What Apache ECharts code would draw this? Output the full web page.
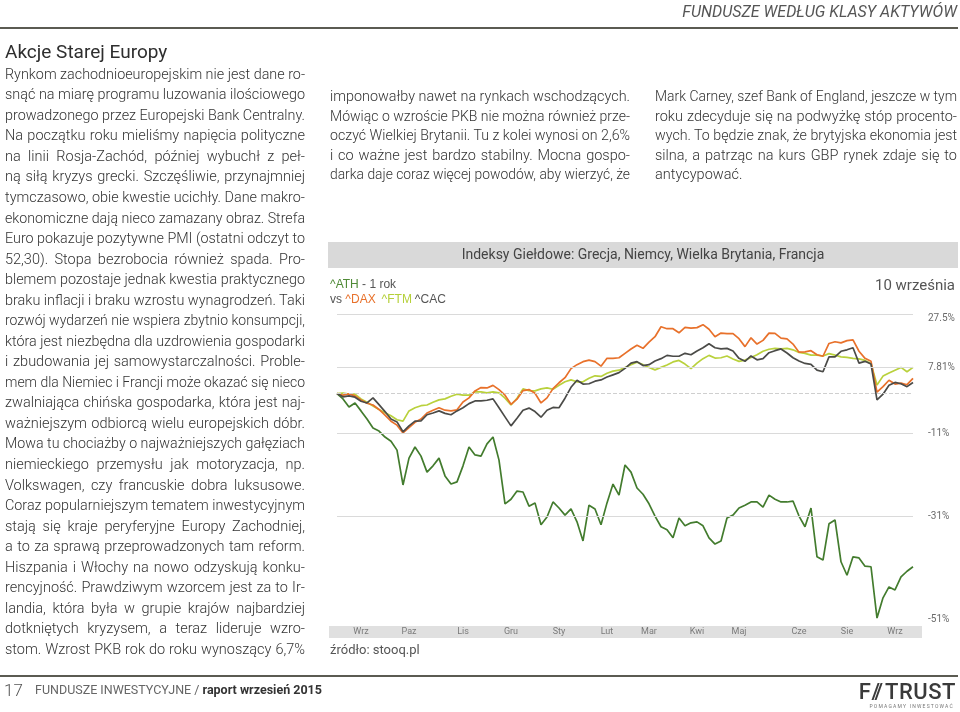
<!DOCTYPE html>
<html><head><meta charset="utf-8">
<script src="https://cdn.jsdelivr.net/npm/echarts@6/dist/echarts.min.js"></script>
<style>
html,body{margin:0;padding:0;background:#fff;}
#page{position:relative;width:960px;height:712px;overflow:hidden;font-family:Roboto,"Noto Sans",sans-serif;color:#3d3d3d;}
#chart{position:absolute;left:0;top:0;width:960px;height:712px;}
.ln{position:absolute;white-space:nowrap;display:inline-block;text-align:justify;text-align-last:justify;transform-origin:0 50%;font-size:14.5px;font-weight:300;color:#333;}
.abs{position:absolute;white-space:nowrap;}
</style></head>
<body><div id="page"><div id="chart"></div></div>
<script>
// ---------------- data ----------------
const monthNames = ['Wrz','Paz','Lis','Gru','Sty','Lut','Mar','Kwi','Maj','Cze','Sie','Wrz'];
const monthAt    = [4, 12, 21, 29, 37, 45, 52, 60, 67, 77, 85, 93];
const yTickLabels = ['27.5%','7.81%','-11%','-31%','-51%'];
const yTickValues = [27.5, 7.81, -11, -31, -51];

const ath = [0, -1.6, -4.0, -2.8, -5.1, -7.4, -9.9, -10.7, -12.3, -13.4,
 -15.7, -24.1, -17.7, -14.9, -17.2, -21.1, -19.6, -17.7, -22.0, -23.9,
 -23.4, -19.6, -14.9, -16.9, -17.2, -14.1, -12.3, -18.2, -28.3, -27.3,
 -25.5, -25.7, -28.8, -28.1, -32.7, -31.1, -27.9, -29.2, -30.7, -29.4,
 -32.1, -35.9, -28.6, -29.4, -32.7, -28.1, -23.9, -26.4, -19.4, -21.1,
 -24.8, -26.2, -28.3, -30.9, -33.1, -33.7, -35.3, -31.3, -32.9, -32.3,
 -32.1, -32.9, -35.3, -36.5, -35.9, -31.3, -30.7, -29.2, -28.6, -27.9,
 -27.9, -29.0, -26.4, -27.3, -27.9, -27.9, -27.7, -30.9, -33.1, -29.2,
 -38.9, -39.5, -32.5, -31.7, -39.8, -42.2, -38.9, -39.1, -40.6, -40.7,
 -49.2, -46.0, -44.2, -44.7, -42.5, -41.5, -40.7];
const dax = [0, -0.5, -0.1, -0.7, -1.9, -2.9, -3.4, -4.7, -6.3, -8.0,
 -9.1, -11.2, -9.8, -8.3, -7.4, -5.7, -4.9, -4.2, -4.9, -5.1,
 -4.8, -2.5, -1.3, 0.8, 1.8, 1.7, 2.5, 1.2, -0.5, -3.2,
 -1.7, 0.9, 1.2, 0.1, -2.8, -1.3, 1.5, 3.3, 4.9, 7.8,
 9.1, 10.1, 10.6, 10.1, 8.6, 11.2, 11.2, 11.4, 12.9, 14.4,
 15.7, 14.6, 16.8, 18.7, 22.3, 21.6, 21.6, 20.1, 22.1, 21.8,
 22.0, 23.1, 21.4, 18.7, 20.0, 19.8, 19.8, 18.0, 15.2, 18.3,
 16.1, 17.4, 20.0, 19.9, 18.2, 17.9, 16.1, 13.3, 13.4, 13.8,
 12.4, 11.9, 16.3, 16.9, 16.5, 17.3, 17.6, 13.6, 11.2, 10.2,
 0.4, 2.1, 4.1, 2.9, 3.2, 2.7, 4.7];
const ftm = [0, 0.1, -0.2, -0.2, -1.6, -2.6, -3.7, -4.7, -5.6, -6.5,
 -7.6, -8.0, -5.1, -4.2, -3.6, -3.4, -2.6, -1.9, -1.6, -0.8,
 -0.2, -0.5, -0.5, 0.5, 0.5, 0.2, 0.5, 0.2, -1.4, -3.4,
 -1.4, 1.4, 0.9, 0.8, 1.4, 1.7, 1.3, 2.5, 3.6, 4.2,
 3.6, 3.6, 4.7, 5.5, 5.3, 6.3, 7.0, 7.3, 8.2, 9.1,
 9.9, 9.1, 8.2, 7.4, 8.2, 9.0, 10.0, 10.5, 9.3, 7.8,
 9.6, 11.1, 12.2, 11.3, 11.4, 12.0, 11.0, 10.2, 10.6, 11.5,
 12.4, 13.6, 14.3, 14.6, 14.4, 14.6, 14.1, 13.2, 12.9, 12.3,
 12.3, 12.0, 12.8, 12.3, 11.7, 11.5, 11.2, 11.0, 10.5, 9.5,
 2.6, 5.4, 6.4, 7.3, 8.2, 6.8, 8.2];
const cac = [0, -1.0, -0.7, -1.1, -2.3, -2.8, -1.3, -3.3, -5.3, -7.4,
 -8.2, -10.9, -9.3, -8.0, -7.9, -6.2, -5.7, -5.1, -5.8, -6.2,
 -5.1, -4.2, -3.0, -2.2, -2.2, -2.0, -1.6, -4.2, -6.8, -9.3,
 -7.2, -4.9, -4.3, -5.3, -6.9, -4.9, -4.1, -4.2, -1.4, 1.9,
 4.1, 2.9, 3.0, 3.8, 4.2, 5.1, 5.8, 6.5, 7.9, 9.6,
 10.1, 8.8, 9.1, 10.3, 11.1, 12.2, 11.9, 11.9, 12.9, 12.4,
 13.7, 14.8, 16.2, 14.8, 14.4, 14.6, 13.7, 11.2, 10.2, 12.0,
 10.7, 11.1, 13.1, 13.8, 14.4, 13.0, 11.4, 10.3, 9.5, 9.2,
 7.3, 6.8, 11.7, 11.7, 13.6, 14.1, 14.8, 9.6, 10.2, 9.3,
 -1.9, -0.2, 2.5, 3.4, 3.0, 2.1, 3.4];

// ---------------- text ----------------
const colLeft = [
"Rynkom zachodnioeuropejskim nie jest dane ro-",
"snąć na miarę programu luzowania ilościowego",
"prowadzonego przez Europejski Bank Centralny.",
"Na początku roku mieliśmy napięcia polityczne",
"na linii Rosja-Zachód, później wybuchł z peł-",
"ną siłą kryzys grecki. Szczęśliwie, przynajmniej",
"tymczasowo, obie kwestie ucichły. Dane makro-",
"ekonomiczne dają nieco zamazany obraz. Strefa",
"Euro pokazuje pozytywne PMI (ostatni odczyt to",
"52,30). Stopa bezrobocia również spada. Pro-",
"blemem pozostaje jednak kwestia praktycznego",
"braku inflacji i braku wzrostu wynagrodzeń. Taki",
"rozwój wydarzeń nie wspiera zbytnio konsumpcji,",
"która jest niezbędna dla uzdrowienia gospodarki",
"i zbudowania jej samowystarczalności. Proble-",
"mem dla Niemiec i Francji może okazać się nieco",
"zwalniająca chińska gospodarka, która jest naj-",
"ważniejszym odbiorcą wielu europejskich dóbr.",
"Mowa tu chociażby o najważniejszych gałęziach",
"niemieckiego przemysłu jak motoryzacja, np.",
"Volkswagen, czy francuskie dobra luksusowe.",
"Coraz popularniejszym tematem inwestycyjnym",
"stają się kraje peryferyjne Europy Zachodniej,",
"a to za sprawą przeprowadzonych tam reform.",
"Hiszpania i Włochy na nowo odzyskują konku-",
"rencyjność. Prawdziwym wzorcem jest za to Ir-",
"landia, która była w grupie krajów najbardziej",
"dotkniętych kryzysem, a teraz lideruje wzro-",
"stom. Wzrost PKB rok do roku wynoszący 6,7%"];
const colMid = [
"imponowałby nawet na rynkach wschodzących.",
"Mówiąc o wzroście PKB nie można również prze-",
"oczyć Wielkiej Brytanii. Tu z kolei wynosi on 2,6%",
"i co ważne jest bardzo stabilny. Mocna gospo-",
"darka daje coraz więcej powodów, aby wierzyć, że"];
const colRight = [
"Mark Carney, szef Bank of England, jeszcze w tym",
"roku zdecyduje się na podwyżkę stóp procento-",
"wych. To będzie znak, że brytyjska ekonomia jest",
"silna, a patrząc na kurs GBP rynek zdaje się to",
"antycypować."];

const page = document.getElementById('page');
function addAbs(html, css){ const d=document.createElement('div'); d.className='abs'; d.innerHTML=html; Object.assign(d.style, css); page.appendChild(d); return d; }
function layoutCol(lines, x, yc0, lh, width, lastFree){
  lines.forEach((t,i)=>{
    const d=document.createElement('div');
    d.className='ln'; d.textContent=t;
    d.style.left=x+'px'; d.style.top=(yc0+i*lh-lh/2)+'px';
    d.style.lineHeight=lh+'px'; d.style.height=lh+'px';
    page.appendChild(d);
    const w=d.getBoundingClientRect().width;
    const free = lastFree && i===lines.length-1;
    if(w>width){ d.style.width=w+'px'; d.style.textAlignLast='left'; d.style.transform='scaleX('+(width/w)+')'; }
    else if(!free){ d.style.width=width+'px'; }
    else { d.style.textAlignLast='left'; }
  });
}
layoutCol(colLeft, 5, 75, 20.54, 300, false);
layoutCol(colMid, 330, 97, 19.5, 300, false);
layoutCol(colRight, 655, 97, 19.5, 302, true);

addAbs('FUNDUSZE WEDŁUG KLASY AKTYWÓW', {right:'3px', top:'2px', fontSize:'16px', fontStyle:'italic', color:'#555', lineHeight:'20px'});
addAbs('', {left:'0px', top:'27px', width:'958px', height:'2px', background:'#5b5b52'});
addAbs('Akcje Starej Europy', {left:'5px', top:'41px', fontSize:'19px', fontWeight:'400', color:'#2e2e2e', lineHeight:'22px'});
addAbs('', {left:'0px', top:'675px', width:'958px', height:'2px', background:'#5b5b52'});
addAbs('17', {left:'4px', top:'680px', fontSize:'17px', fontWeight:'300', color:'#555', lineHeight:'20px'});
addAbs('FUNDUSZE INWESTYCYJNE / <b style="color:#333">raport wrzesień 2015</b>', {left:'35px', top:'682px', fontSize:'12.5px', color:'#666', lineHeight:'16px'});
addAbs('F<span style="letter-spacing:-3px">//</span>&thinsp;TRUST', {right:'4px', top:'680px', fontSize:'22px', fontWeight:'500', color:'#3a3a3a', lineHeight:'24px', letterSpacing:'0.5px'});
addAbs('POMAGAMY INWESTOWAĆ', {right:'6px', top:'703px', fontSize:'5px', color:'#777', lineHeight:'6px', letterSpacing:'1.2px'});

// ---------------- chart ----------------
const N = ath.length;
const categories = Array.from({length:N}, (_,i)=>'');
monthAt.forEach((idx,k)=>{ categories[idx]=monthNames[k]; });
const toLog = p => Math.log(1 + p/100);

const gridLines = yTickValues.map((v,k)=>{
  const item = {yAxis: toLog(v), name: yTickLabels[k]};
  if (k===0) item.label = {formatter: '{dn|{b}}'};
  if (k===yTickValues.length-1) { item.lineStyle = {color:'rgba(255,255,255,0)', width:0.1}; item.label = {formatter: '{up|{b}}'}; }
  return item;
});
gridLines.push({yAxis: 0, lineStyle:{type:'dashed', color:'#cfcfcf'}, label:{show:false}});

const chart = echarts.init(document.getElementById('chart'), null, {renderer:'canvas'});
const lineSeries = (name, data, color, extra) => Object.assign({
  name, type:'line', data: data.map(toLog), showSymbol:false, symbol:'none',
  lineStyle:{color, width:1.7}, itemStyle:{color}, animation:false, z:3
}, extra||{});

chart.setOption({
  animation:false,
  grid:{left:337, right:47, top:313, bottom:82},
  xAxis:{type:'category', data:categories, boundaryGap:false,
    axisLine:{show:false}, axisTick:{show:false}, splitLine:{show:false},
    axisLabel:{interval:0, color:'#7a7a7a', fontSize:9, margin:-3, fontFamily:'Roboto'}},
  yAxis:{type:'value', min:toLog(-51), max:toLog(27.5), show:false},
  series:[
    lineSeries('^ATH', ath, '#437c2e', {markLine:{silent:true, symbol:'none', animation:false,
      lineStyle:{color:'#dadada', type:'solid', width:1},
      label:{show:true, position:'end', distance:15, formatter:'{b}', color:'#6a6a6a', fontSize:10, fontFamily:'Roboto',
        rich:{up:{padding:[0,0,18,0], color:'#6a6a6a', fontSize:10}, dn:{padding:[10,0,0,0], color:'#6a6a6a', fontSize:10}}},
      data: gridLines}}),
    lineSeries('^FTM', ftm, '#b9d13c'),
    lineSeries('^DAX', dax, '#e8712b'),
    lineSeries('^CAC', cac, '#4b4b48')
  ],
  graphic:[
    {type:'rect', z:-10, shape:{x:328, y:242, width:630, height:26}, style:{fill:'#d9d9d9'}},
    {type:'text', z:-5, style:{text:'Indeksy Giełdowe: Grecja, Niemcy, Wielka Brytania, Francja', x:643, y:255, align:'center', verticalAlign:'middle', fontSize:14, fontFamily:'Roboto', fill:'#444'}},
    {type:'text', style:{x:330, y:277, text:'{g|^ATH}{k| - 1 rok}\n{k|vs }{o|^DAX}  {y|^FTM} {k|^CAC}', fontSize:12, fontFamily:'Roboto', lineHeight:15,
      rich:{g:{fill:'#4f8a36', fontSize:12, lineHeight:15}, k:{fill:'#555', fontSize:12, lineHeight:15}, o:{fill:'#e8712b', fontSize:12, lineHeight:15}, y:{fill:'#b5d03a', fontSize:12, lineHeight:15}}}},
    {type:'text', style:{text:'10 września', x:955, y:286, align:'right', verticalAlign:'middle', fontSize:15, fontFamily:'Roboto', fill:'#555'}},
    {type:'rect', z:-10, shape:{x:329, y:626, width:593, height:12}, style:{fill:'#e0e0e0'}},
    {type:'text', style:{text:'źródło: stooq.pl', x:330, y:651, verticalAlign:'middle', fontSize:13, fontFamily:'Roboto', fill:'#555'}}
  ]
});
</script></body></html>
